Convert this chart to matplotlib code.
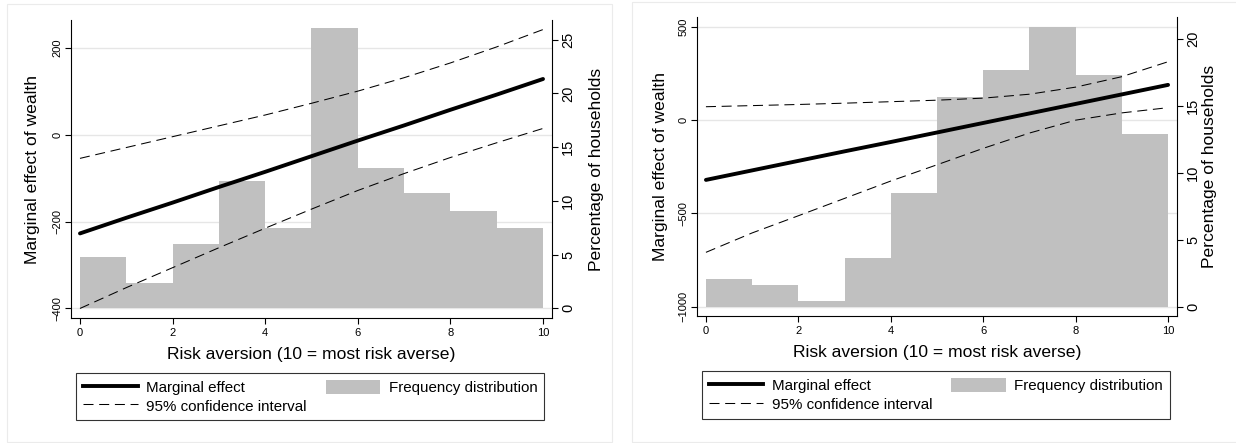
import numpy as np
import matplotlib
matplotlib.use("Agg")
import matplotlib.pyplot as plt
from matplotlib.lines import Line2D
from matplotlib.patches import Patch, Rectangle
from matplotlib.transforms import blended_transform_factory

plt.rcParams["font.family"] = ["Liberation Sans", "DejaVu Sans"]
plt.rcParams["lines.scale_dashes"] = False

risk = np.arange(0, 11)
bin_edges = np.arange(0, 10)

# left panel
left_pct = [4.75, 2.4, 5.95, 11.85, 7.5, 26.05, 13.1, 10.7, 9.1, 7.5]
left_effect = [-227, -191, -156, -120, -85, -49, -13, 22, 58, 93, 129]
left_upper = [-54, -29, -4, 21, 46, 73, 101, 132, 166, 203, 243]
left_lower = [-400, -352, -306, -260, -215, -171, -128, -89, -52, -18, 15]
left_yticks = [-400, -200, 0, 200]
left_pticks = [0, 5, 10, 15, 20, 25]

# right panel
right_pct = [2.05, 1.65, 0.45, 3.65, 8.5, 15.65, 17.7, 20.9, 17.3, 12.9]
right_effect = [-321, -270, -219, -168, -118, -67, -16, 35, 86, 137, 188]
right_upper = [71, 77, 83, 90, 98, 106, 117, 138, 176, 232, 312]
right_lower = [-709, -605, -513, -420, -327, -240, -152, -70, -1, 38, 66]
right_yticks = [-1000, -500, 0, 500]
right_pticks = [0, 5, 10, 15, 20]

xticks = [0, 2, 4, 6, 8, 10]
labels = ["Marginal effect", "95% confidence interval", "Frequency distribution"]

BAR = "#c0c0c0"
GRID = "#e6e6e6"
DASH = (0, (7.2, 4.1))
W, H = 1236, 443


def draw_panel(fig, rect, pct, effect, upper, lower, yticks, pticks,
               ylim, plim, xlim, lab_x, legend_xy):
    # histogram axis (primary, ticks on right), effect axis on top of it
    ax = fig.add_axes(rect)
    ax2 = ax.twinx()
    ax2.yaxis.tick_left()
    ax2.yaxis.set_label_position("left")
    ax.yaxis.tick_right()
    ax.yaxis.set_label_position("right")

    tr = blended_transform_factory(ax.transAxes, ax2.transData)
    for t in yticks:
        ax.add_line(Line2D([0, 1], [t, t], transform=tr, color=GRID, lw=1.0, zorder=0))

    ax.bar(bin_edges, pct, width=1, align="edge", color=BAR, linewidth=0, zorder=1)
    ax2.plot(risk, upper, color="black", lw=0.75, linestyle=DASH)
    ax2.plot(risk, lower, color="black", lw=0.75, linestyle=DASH)
    ax2.plot(risk, effect, color="black", lw=2.8, solid_capstyle="round")

    ax.set_xlim(xlim)
    ax.set_ylim(plim)
    ax2.set_ylim(ylim)
    ax.set_xticks(xticks)
    ax.set_yticks(pticks)
    ax2.set_yticks(yticks)

    for a in (ax, ax2):
        a.spines["top"].set_visible(False)
        for s in a.spines.values():
            s.set_linewidth(0.8)
    ax.spines["left"].set_visible(False)
    ax2.spines["right"].set_visible(False)
    ax2.spines["bottom"].set_visible(False)

    ax.tick_params(axis="x", direction="out", length=4, width=0.8, pad=3, labelsize=8)
    ax.tick_params(axis="y", direction="out", length=4, width=0.8, pad=2.5, labelsize=10.5)
    ax2.tick_params(axis="y", direction="out", length=4, width=0.8, pad=2, labelsize=8)
    for lab in ax.get_yticklabels() + ax2.get_yticklabels():
        lab.set_rotation(90)
        lab.set_va("center")

    ax.set_xlabel("Risk aversion (10 = most risk averse)", fontsize=12.6)
    ax.xaxis.set_label_coords(0.5, lab_x[0])
    ax.xaxis.label.set_va("center")
    ax2.set_ylabel("Marginal effect of wealth", fontsize=12.6)
    ax2.yaxis.set_label_coords(lab_x[1], 0.5)
    ax2.yaxis.label.set_va("center")
    ax.set_ylabel("Percentage of households", fontsize=12.6)
    ax.yaxis.set_label_coords(lab_x[2], 0.5)
    ax.yaxis.label.set_va("center")

    handles = [Line2D([], [], color="black", lw=2.8),
               Line2D([], [], color="black", lw=0.75, linestyle=DASH),
               Patch(facecolor=BAR, edgecolor="none")]
    leg = fig.legend(handles, labels, ncol=2, loc="upper left",
                     bbox_to_anchor=legend_xy, bbox_transform=fig.transFigure,
                     borderaxespad=0, fontsize=10.9, frameon=True, fancybox=False,
                     handlelength=3.63, handleheight=1.1, handletextpad=0.55,
                     labelspacing=0.22, columnspacing=1.25, borderpad=0.45)
    leg.get_frame().set_edgecolor("black")
    leg.get_frame().set_linewidth(0.8)
    return ax, ax2


def main():
    fig = plt.figure(figsize=(W / 100, H / 100), dpi=100)
    fig.patch.set_facecolor("white")

    # light outer frames of the two graph regions
    fig.add_artist(Rectangle((7 / W, 1 - 442 / H), (611.7 - 7) / W, (442 - 4) / H,
                             transform=fig.transFigure, fill=False, edgecolor="#ebebeb", lw=0.8))
    fig.add_artist(Rectangle((632 / W, 1 - 441.5 / H), (1240 - 632) / W, (441.5 - 2) / H,
                             transform=fig.transFigure, fill=False, edgecolor="#ebebeb", lw=0.8))

    draw_panel(fig, [71 / W, 1 - 318 / H, 481 / W, 298 / H],
               left_pct, left_effect, left_upper, left_lower, left_yticks, left_pticks,
               (-422, 265), (-0.9, 26.84), (-0.194, 10.194),
               (-0.122, -0.081, 1.093), (76 / W, 1 - 372.7 / H))
    draw_panel(fig, [696.7 / W, 1 - 316 / H, 480.6 / W, 298.7 / H],
               right_pct, right_effect, right_upper, right_lower, right_yticks, right_pticks,
               (-1050, 550), (-0.69, 21.6), (-0.2, 10.2),
               (-0.123, -0.076, 1.068), (701.7 / W, 1 - 371 / H))

    fig.savefig("out.png", dpi=100)


if __name__ == "__main__":
    main()
